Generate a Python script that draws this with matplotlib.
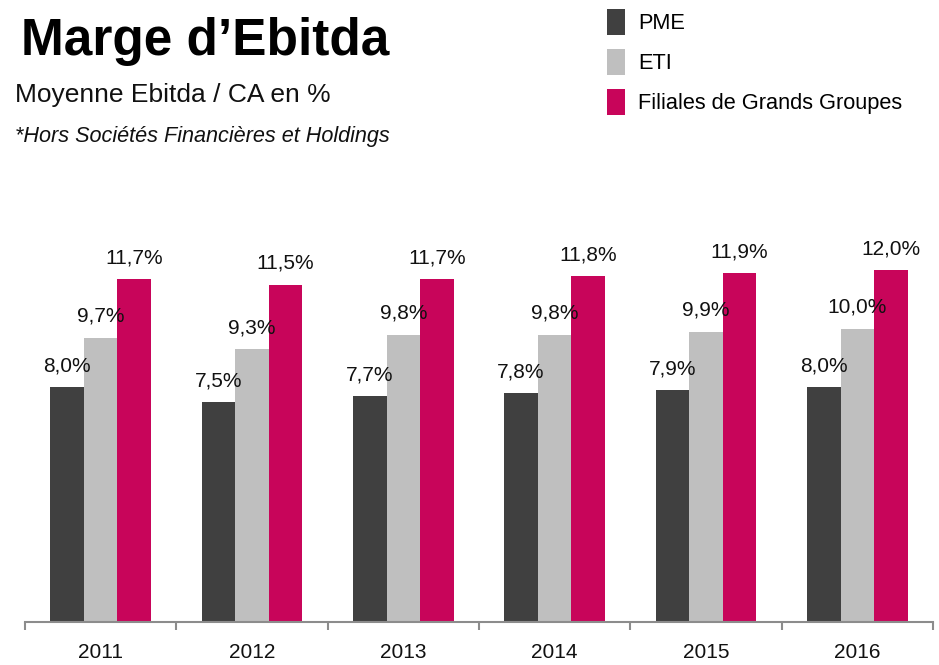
import matplotlib
matplotlib.use("Agg")
import matplotlib.pyplot as plt
import numpy as np

plt.rcParams["font.family"] = ["Liberation Sans", "DejaVu Sans"]

years = ["2011", "2012", "2013", "2014", "2015", "2016"]
pme = [8.0, 7.5, 7.7, 7.8, 7.9, 8.0]
eti = [9.7, 9.3, 9.8, 9.8, 9.9, 10.0]
fgg = [11.7, 11.5, 11.7, 11.8, 11.9, 12.0]
series_names = ["PME", "ETI", "Filiales de Grands Groupes"]
colors = ["#404040", "#bfbfbf", "#c8055a"]

W, H = 939, 665
fig = plt.figure(figsize=(W / 100, H / 100), dpi=100)
ax = fig.add_axes([25 / W, 43 / H, 908 / W, 472 / H])

x = np.arange(len(years))
w = 0.222
handles = []
for i, (vals, name, c) in enumerate(zip([pme, eti, fgg], series_names, colors)):
    bars = ax.bar(x + (i - 1) * w, vals, width=w, color=c, label=name)
    handles.append(bars)
    for xi, v in zip(x + (i - 1) * w, vals):
        ax.annotate(f"{v:.1f}%".replace(".", ","), (xi, v), xytext=(0, 11.5),
                    textcoords="offset points", ha="center", va="baseline",
                    fontsize=15, color="#111111")

ax.set_xlim(-0.5, len(years) - 0.5)
ax.set_ylim(0, 16.1)
ax.set_yticks([])
for s in ["left", "right", "top"]:
    ax.spines[s].set_visible(False)
ax.spines["bottom"].set_color("#8c8c8c")
ax.spines["bottom"].set_linewidth(1.5)
ax.set_xticks(x)
ax.set_xticklabels(years, fontsize=15, color="#111111")
ax.tick_params(axis="x", which="major", length=0, pad=15)
ax.set_xticks(np.arange(len(years) + 1) - 0.5, minor=True)
ax.tick_params(axis="x", which="minor", length=6, width=1.5, color="#8c8c8c")

fig.text(21 / W, 1 - 55 / H, "Marge d\u2019Ebitda", fontsize=37, fontweight="bold",
         va="baseline", ha="left", color="black")
fig.text(15 / W, 1 - 102 / H, "Moyenne Ebitda / CA en %", fontsize=19,
         va="baseline", ha="left", color="#111111")
fig.text(15 / W, 1 - 142 / H, "*Hors Sociétés Financières et Holdings", fontsize=15.6,
         style="italic", va="baseline", ha="left", color="#111111")

fig.legend(handles=handles, labels=series_names, loc="upper left",
           bbox_to_anchor=(598 / W, 1 - 0 / H), frameon=False, fontsize=15.7,
           handlelength=0.85, handleheight=1.45, handletextpad=0.6,
           labelspacing=0.65, borderaxespad=0)

fig.savefig("out.png", dpi=100)
